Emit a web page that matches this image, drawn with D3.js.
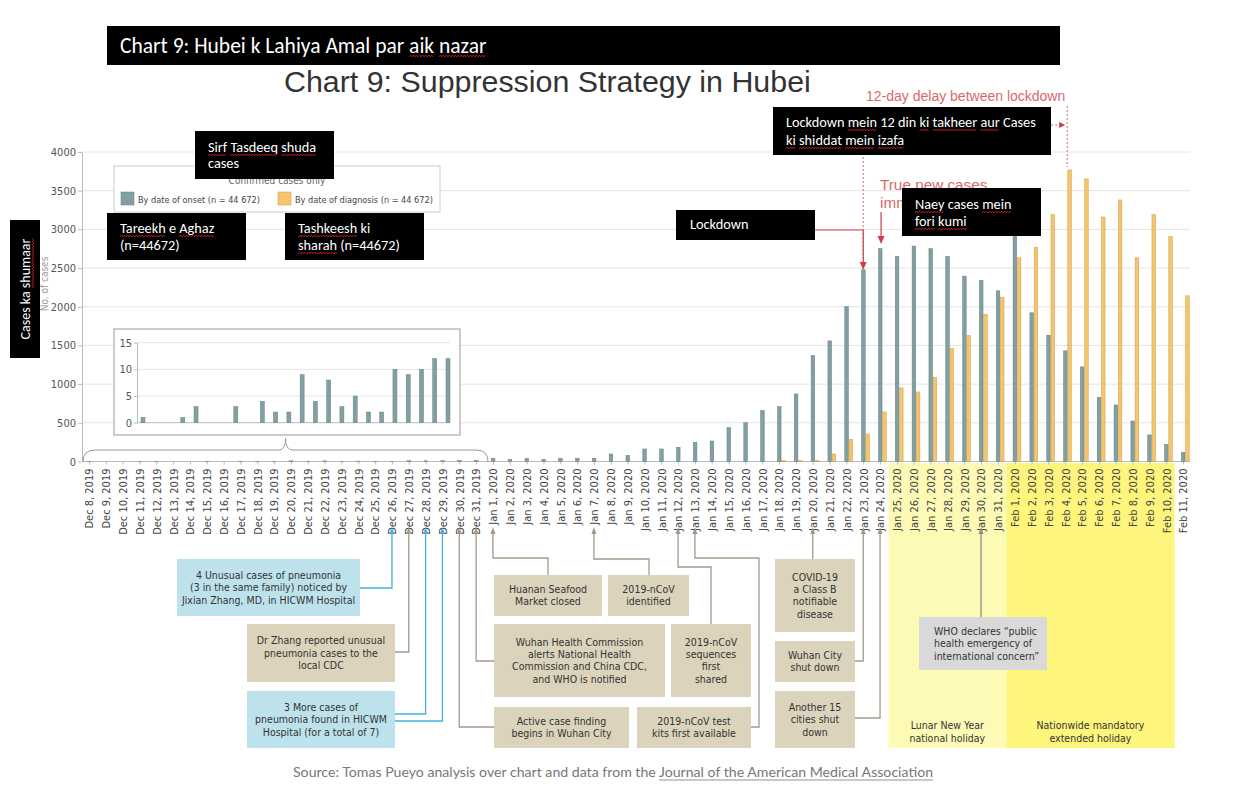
<!DOCTYPE html>
<html>
<head>
<meta charset="utf-8">
<script src="https://cdn.jsdelivr.net/npm/d3@7"></script>
<style>
  body { margin: 0; background: #fff; }
</style>
</head>
<body>
<svg id="chart"></svg>
<script>
// ---- data ----
var dates = [
  "Dec 8, 2019","Dec 9, 2019","Dec 10, 2019","Dec 11, 2019","Dec 12, 2019","Dec 13, 2019",
  "Dec 14, 2019","Dec 15, 2019","Dec 16, 2019","Dec 17, 2019","Dec 18, 2019","Dec 19, 2019",
  "Dec 20, 2019","Dec 21, 2019","Dec 22, 2019","Dec 23, 2019","Dec 24, 2019","Dec 25, 2019",
  "Dec 26, 2019","Dec 27, 2019","Dec 28, 2019","Dec 29, 2019","Dec 30, 2019","Dec 31, 2019",
  "Jan 1, 2020","Jan 2, 2020","Jan 3, 2020","Jan 4, 2020","Jan 5, 2020","Jan 6, 2020",
  "Jan 7, 2020","Jan 8, 2020","Jan 9, 2020","Jan 10, 2020","Jan 11, 2020","Jan 12, 2020",
  "Jan 13, 2020","Jan 14, 2020","Jan 15, 2020","Jan 16, 2020","Jan 17, 2020","Jan 18, 2020",
  "Jan 19, 2020","Jan 20, 2020","Jan 21, 2020","Jan 22, 2020","Jan 23, 2020","Jan 24, 2020",
  "Jan 25, 2020","Jan 26, 2020","Jan 27, 2020","Jan 28, 2020","Jan 29, 2020","Jan 30, 2020",
  "Jan 31, 2020","Feb 1, 2020","Feb 2, 2020","Feb 3, 2020","Feb 4, 2020","Feb 5, 2020",
  "Feb 6, 2020","Feb 7, 2020","Feb 8, 2020","Feb 9, 2020","Feb 10, 2020","Feb 11, 2020"
];

// cases by date of onset
var onset = [
  1, 0, 0, 1, 3, 0, 0, 3, 0, 4, 2, 2, 9, 4, 8, 3, 5, 2, 2, 10, 9, 10, 12, 12,
  41, 28, 41, 28, 41, 41, 41, 97, 80, 162, 162, 184, 248, 265, 438, 502, 658, 709,
  873, 1369, 1559, 2003, 2478, 2750, 2650, 2784, 2750, 2650, 2396, 2340, 2206,
  3000, 1922, 1633, 1430, 1223, 831, 731, 524, 343, 222, 119
];

// cases by date of diagnosis
var diagnosis = [
  0, 0, 0, 0, 0, 0, 0, 0, 0, 0, 0, 0, 0, 0, 0, 0, 0, 0, 0, 0, 0, 0, 0, 0,
  0, 0, 0, 0, 0, 0, 0, 0, 0, 0, 0, 0, 0, 0, 0, 0, 0, 12,
  12, 12, 97, 287, 356, 641, 951, 899, 1085, 1460, 1628, 1904, 2124,
  2633, 2767, 3190, 3768, 3652, 3160, 3380, 2633, 3190, 2905, 2141
];

var yTicks = [0, 500, 1000, 1500, 2000, 2500, 3000, 3500, 4000];
var insetTicks = [0, 5, 10, 15];
var insetDays = 24; // Dec 8 - Dec 31 shown in the zoomed panel

// ---- setup ----
var svgWidth = 1237;
var svgHeight = 790;

var narrow = "'Liberation Sans Narrow','DejaVu Sans Condensed',sans-serif";
var calibri = "Carlito, Lato, 'Open Sans', sans-serif";
var helv = "'Liberation Sans', Arial, sans-serif";
var red = "#c9404a";
var pink = "#d9686c";

var svg = d3.select("#chart")
  .attr("width", svgWidth)
  .attr("height", svgHeight)
  .style("background", "#fff");

var x = d3.scalePoint().domain(dates).range([89, 1183]);
var y = d3.scaleLinear().domain([0, 4000]).range([461.5, 152]);
var step = x.step();

// holiday bands behind everything
var bands = svg.append("g");
bands.append("rect")
  .attr("x", x("Jan 25, 2020") - step / 2).attr("y", 463)
  .attr("width", x("Feb 1, 2020") - x("Jan 25, 2020")).attr("height", 285)
  .attr("fill", "#fdfab6");
bands.append("rect")
  .attr("x", x("Feb 1, 2020") - step / 2).attr("y", 463)
  .attr("width", x("Feb 11, 2020") - x("Feb 1, 2020")).attr("height", 285)
  .attr("fill", "#fdf57c");

// grid
svg.append("g").selectAll("line")
  .data(yTicks.slice(1))
  .enter().append("line")
  .attr("x1", 82).attr("x2", 1190)
  .attr("y1", d => y(d)).attr("y2", d => y(d))
  .attr("stroke", "#e4e4e4");

// y axis
var yAxis = svg.append("g")
  .attr("transform", "translate(82,0)")
  .call(d3.axisLeft(y).tickValues(yTicks).tickFormat(d3.format("d"))
    .tickSize(4).tickSizeOuter(0).tickPadding(2));
yAxis.select(".domain").attr("stroke", "#bbb");
yAxis.selectAll(".tick line").attr("stroke", "#bbb");
yAxis.selectAll("text").attr("fill", "#555").style("font-family", narrow).style("font-size", "11px");

// x axis
svg.append("line")
  .attr("x1", 82).attr("x2", 1190).attr("y1", 461.5).attr("y2", 461.5)
  .attr("stroke", "#bbb");
var xAxis = svg.append("g")
  .attr("transform", "translate(0,461.5)")
  .call(d3.axisBottom(x).tickSize(3).tickSizeOuter(0));
xAxis.select(".domain").remove();
xAxis.selectAll(".tick line").attr("stroke", "#bbb");
xAxis.selectAll("text")
  .attr("transform", "rotate(-90)")
  .attr("text-anchor", "end")
  .attr("x", -7).attr("y", 0).attr("dy", "0.35em")
  .attr("fill", "#444")
  .style("font-family", narrow).style("font-size", "11px");

// bars
var rows = dates.map((d, i) => ({ date: d, onset: onset[i], diag: diagnosis[i] }));

svg.append("g").selectAll("rect")
  .data(rows.filter(d => d.onset > 0))
  .enter().append("rect")
  .attr("x", d => x(d.date) - 1.6)
  .attr("width", 3.6)
  .attr("y", d => y(d.onset))
  .attr("height", d => y(0) - y(d.onset))
  .attr("fill", "#82a0a3")
  .attr("stroke", "#62807f").attr("stroke-width", 0.5);

svg.append("g").selectAll("rect")
  .data(rows.filter(d => d.diag > 0))
  .enter().append("rect")
  .attr("x", d => x(d.date) + 2.6)
  .attr("width", 3.6)
  .attr("y", d => y(d.diag))
  .attr("height", d => y(0) - y(d.diag))
  .attr("fill", "#f4c56e")
  .attr("stroke", "#cf9d45").attr("stroke-width", 0.5);

// ---- inset for December ----
var inset = svg.append("g");
inset.append("rect")
  .attr("x", 114).attr("y", 329).attr("width", 346).attr("height", 106)
  .attr("fill", "#fff").attr("stroke", "#aaa").attr("stroke-width", 1.2);

var xi = d3.scalePoint().domain(dates.slice(0, insetDays)).range([143, 448]);
var yi = d3.scaleLinear().domain([0, 15]).range([422.7, 342.7]);

inset.append("g").selectAll("line")
  .data(insetTicks.slice(1))
  .enter().append("line")
  .attr("x1", 137).attr("x2", 450)
  .attr("y1", d => yi(d)).attr("y2", d => yi(d))
  .attr("stroke", "#e6e6e6");
inset.append("line")
  .attr("x1", 137).attr("x2", 450).attr("y1", yi(0)).attr("y2", yi(0))
  .attr("stroke", "#bbb");
var iAxis = inset.append("g")
  .attr("transform", "translate(137,0)")
  .call(d3.axisLeft(yi).tickValues(insetTicks).tickSize(3).tickSizeOuter(0).tickPadding(2));
iAxis.select(".domain").attr("stroke", "#bbb");
iAxis.selectAll(".tick line").attr("stroke", "#bbb");
iAxis.selectAll("text").attr("fill", "#555").style("font-family", narrow).style("font-size", "11px");

inset.append("g").selectAll("rect")
  .data(rows.slice(0, insetDays).filter(d => d.onset > 0))
  .enter().append("rect")
  .attr("x", d => xi(d.date) - 2)
  .attr("width", 4)
  .attr("y", d => yi(d.onset))
  .attr("height", d => yi(0) - yi(d.onset))
  .attr("fill", "#82a0a3")
  .attr("stroke", "#62807f").attr("stroke-width", 0.5);

// brace under the inset
var bx0 = x(dates[0]) - 6, bx1 = x(dates[insetDays - 1]) + 12, bmid = (bx0 + bx1) / 2;
svg.append("path")
  .attr("d", `M${bx0},462 Q${bx0},450 ${bx0 + 12},450 L${bmid - 7},450 Q${bmid},450 ${bmid},438 ` +
             `Q${bmid},450 ${bmid + 7},450 L${bx1 - 12},450 Q${bx1},450 ${bx1},462`)
  .attr("fill", "none").attr("stroke", "#9a9a9a").attr("stroke-width", 1);

// ---- legend ----
var legend = svg.append("g");
legend.append("rect")
  .attr("x", 114).attr("y", 166).attr("width", 326).attr("height", 46)
  .attr("fill", "#fff").attr("stroke", "#ccc");
legend.append("text")
  .attr("x", 277).attr("y", 184).attr("text-anchor", "middle")
  .attr("fill", "#666").style("font-family", narrow).style("font-size", "10px")
  .text("Confirmed cases only");
legend.append("rect").attr("x", 121).attr("y", 192).attr("width", 13).attr("height", 13)
  .attr("fill", "#82a0a3").attr("stroke", "#62807f").attr("stroke-width", 0.5);
var lg1 = legend.append("text").attr("x", 138).attr("y", 203)
  .attr("fill", "#444").attr("font-size", 11).style("font-family", narrow)
  .text("By date of onset (n = 44 672)");
fitText(lg1, 122);
legend.append("rect").attr("x", 278).attr("y", 192).attr("width", 13).attr("height", 13)
  .attr("fill", "#f4c56e").attr("stroke", "#cf9d45").attr("stroke-width", 0.5);
var lg2 = legend.append("text").attr("x", 295).attr("y", 203)
  .attr("fill", "#444").attr("font-size", 11).style("font-family", narrow)
  .text("By date of diagnosis (n = 44 672)");
fitText(lg2, 138);

// y axis title (original, partly under the black box)
svg.append("text")
  .attr("transform", "translate(48,284) rotate(-90)")
  .attr("text-anchor", "middle")
  .attr("fill", "#999").style("font-family", narrow).style("font-size", "10px")
  .text("No. of cases");

// ---- timeline annotations ----
var boxColors = { blue: "#bde2ec", tan: "#dbd3bb", gray: "#d9d9d9" };
var lineColors = { blue: "#3fb2dc", tan: "#a3998b", gray: "#8d8d8d" };

var boxes = [
  { kind: "blue", r: [177, 559, 183, 57], lines: ["4 Unusual cases of pneumonia", "(3 in the same family) noticed by", "Jixian Zhang, MD, in HICWM Hospital"] },
  { kind: "tan", r: [247, 624, 148, 58], lines: ["Dr Zhang reported unusual", "pneumonia cases to the", "local CDC"] },
  { kind: "blue", r: [247, 691, 148, 57], lines: ["3 More cases of", "pneumonia found in HICWM", "Hospital (for a total of 7)"] },
  { kind: "tan", r: [494, 575, 108, 41], lines: ["Huanan Seafood", "Market closed"] },
  { kind: "tan", r: [608, 575, 81, 41], lines: ["2019-nCoV", "identified"] },
  { kind: "tan", r: [494, 624, 171, 73], lines: ["Wuhan Health Commission", "alerts National Health", "Commission and China CDC,", "and WHO is notified"] },
  { kind: "tan", r: [671, 624, 80, 73], lines: ["2019-nCoV", "sequences", "first", "shared"] },
  { kind: "tan", r: [494, 707, 135, 41], lines: ["Active case finding", "begins in Wuhan City"] },
  { kind: "tan", r: [637, 707, 114, 41], lines: ["2019-nCoV test", "kits first available"] },
  { kind: "tan", r: [775, 559, 80, 73], lines: ["COVID-19", "a Class B", "notifiable", "disease"] },
  { kind: "tan", r: [775, 641, 80, 41], lines: ["Wuhan City", "shut down"] },
  { kind: "tan", r: [775, 691, 80, 57], lines: ["Another 15", "cities shut", "down"] },
  { kind: "gray", r: [919, 617, 128, 53], left: true, lines: ["WHO declares \u201cpublic", "health emergency of", "international concern\u201d"] }
];

// connector routes: points from the box towards the date; "d" = x of that date
var links = [
  { date: "Dec 26, 2019", kind: "blue", pts: [[360, 588], ["d", 588]] },
  { date: "Dec 27, 2019", kind: "tan", pts: [[395, 652], ["d", 652]] },
  { date: "Dec 28, 2019", kind: "blue", pts: [[395, 714], ["d", 714]] },
  { date: "Dec 29, 2019", kind: "blue", pts: [[395, 721], ["d", 721]] },
  { date: "Dec 30, 2019", kind: "tan", pts: [[494, 727], ["d", 727]] },
  { date: "Dec 31, 2019", kind: "tan", pts: [[494, 661], ["d", 661]] },
  { date: "Jan 1, 2020", kind: "tan", pts: [[548, 575], [548, 558], ["d", 558]] },
  { date: "Jan 7, 2020", kind: "tan", pts: [[649, 575], [649, 559], ["d", 559]] },
  { date: "Jan 12, 2020", kind: "tan", pts: [[711, 624], [711, 567], ["d", 567]] },
  { date: "Jan 13, 2020", kind: "tan", pts: [[751, 727], [759, 727], [759, 558], ["d", 558]] },
  { date: "Jan 20, 2020", kind: "tan", pts: [["d", 559]] },
  { date: "Jan 23, 2020", kind: "tan", pts: [[855, 661], ["d", 661]] },
  { date: "Jan 24, 2020", kind: "tan", pts: [[855, 718], ["d", 718]] },
  { date: "Jan 30, 2020", kind: "gray", pts: [["d", 617]] }
];

var ann = svg.append("g");
links.forEach(function(l) {
  var dx = x(l.date);
  var pts = l.pts.map(p => [p[0] === "d" ? dx : p[0], p[1]]);
  pts.push([dx, 533]);
  ann.append("path")
    .attr("d", d3.line()(pts))
    .attr("fill", "none").attr("stroke", lineColors[l.kind]).attr("stroke-width", 1.3);
  ann.append("path")
    .attr("d", `M${dx},527 L${dx - 2.5},534 L${dx + 2.5},534 Z`)
    .attr("fill", lineColors[l.kind]);
});

boxes.forEach(function(b) {
  var r = b.r;
  ann.append("rect")
    .attr("x", r[0]).attr("y", r[1]).attr("width", r[2]).attr("height", r[3])
    .attr("fill", boxColors[b.kind]);
  var lh = 12.4;
  var top = r[1] + r[3] / 2 - (b.lines.length - 1) * lh / 2;
  var t = ann.append("text")
    .attr("text-anchor", b.left ? "start" : "middle")
    .attr("fill", "#333")
    .style("font-family", narrow).style("font-size", "10.5px");
  b.lines.forEach(function(s, i) {
    t.append("tspan")
      .attr("x", b.left ? r[0] + 15 : r[0] + r[2] / 2)
      .attr("y", top + i * lh)
      .attr("dy", "0.35em")
      .text(s);
  });
});

// holiday labels
var holidays = [
  { from: "Jan 25, 2020", to: "Feb 1, 2020", lines: ["Lunar New Year", "national holiday"] },
  { from: "Feb 1, 2020", to: "Feb 11, 2020", lines: ["Nationwide mandatory", "extended holiday"] }
];
holidays.forEach(function(h) {
  var cx = (x(h.from) + x(h.to)) / 2 - step / 2;
  var t = ann.append("text").attr("text-anchor", "middle").attr("fill", "#333")
    .style("font-family", narrow).style("font-size", "10.5px");
  h.lines.forEach(function(s, i) {
    t.append("tspan").attr("x", cx).attr("y", 729 + i * 12.5).text(s);
  });
});

// ---- red lockdown annotations ----
var xl = x("Jan 23, 2020"), x24 = x("Jan 24, 2020"), xf4 = x("Feb 4, 2020");
var redG = svg.append("g");
redG.append("text")
  .attr("x", 866).attr("y", 101)
  .attr("fill", pink).style("font-family", helv).style("font-size", "14px")
  .text("12-day delay between lockdown");
redG.append("line")
  .attr("x1", xl).attr("x2", xl).attr("y1", 125).attr("y2", 262)
  .attr("stroke", pink).attr("stroke-dasharray", "2,2");
redG.append("line")
  .attr("x1", xl).attr("x2", xf4 - 4).attr("y1", 125).attr("y2", 125)
  .attr("stroke", pink).attr("stroke-dasharray", "2,2");
redG.append("path")
  .attr("d", `M${xf4},125 L${xf4 - 6},122 L${xf4 - 6},128 Z`).attr("fill", red);
redG.append("line")
  .attr("x1", xf4 + 2).attr("x2", xf4 + 2).attr("y1", 106).attr("y2", 167)
  .attr("stroke", pink).attr("stroke-dasharray", "2,2");

redG.append("path")
  .attr("d", `M815,230 L${xl},230 L${xl},264`)
  .attr("fill", "none").attr("stroke", red).attr("stroke-width", 1.2);
redG.append("path")
  .attr("d", `M${xl},270 L${xl - 3.5},262 L${xl + 3.5},262 Z`).attr("fill", red);

redG.append("text")
  .attr("x", 880).attr("y", 190)
  .attr("fill", pink).style("font-family", helv).style("font-size", "15.3px")
  .text("True new cases");
redG.append("text")
  .attr("x", 880).attr("y", 208)
  .attr("fill", pink).style("font-family", helv).style("font-size", "15.3px")
  .text("immediately drop");
redG.append("line")
  .attr("x1", x24 + 1).attr("x2", x24 + 1).attr("y1", 212).attr("y2", 238)
  .attr("stroke", red).attr("stroke-width", 1.2);
redG.append("path")
  .attr("d", `M${x24 + 1},244 L${x24 - 2.5},236 L${x24 + 4.5},236 Z`).attr("fill", red);

// ---- main title ----
var title = svg.append("text")
  .attr("x", 284).attr("y", 92)
  .attr("fill", "#333").attr("font-size", 30)
  .style("font-family", helv)
  .text("Chart 9: Suppression Strategy in Hubei");
fitText(title, 527);

// ---- source ----
var src = svg.append("text")
  .attr("x", 293).attr("y", 777)
  .attr("fill", "#777").attr("font-size", 13)
  .style("font-family", "Lato, 'Open Sans', sans-serif");
src.append("tspan").text("Source: Tomas Pueyo analysis over chart and data from the ");
var jama = src.append("tspan").text("Journal of the American Medical Association");
fitText(src, 641);
var jx0 = jama.node().getStartPositionOfChar(0).x;
var jx1 = jama.node().getEndPositionOfChar(jama.text().length - 1).x;
svg.append("line").attr("x1", jx0).attr("x2", jx1).attr("y1", 780).attr("y2", 780)
  .attr("stroke", "#777").attr("stroke-width", 0.8);

// ---- black overlay boxes (translated labels) ----
var overlays = [
  { r: [107, 26, 953, 39], tx: 120, ty: [53], size: 21.5, lines: ["Chart 9: Hubei k Lahiya Amal par *aik *nazar"] },
  { r: [195, 131, 139, 48], tx: 208, ty: [152, 168], size: 14.3, lines: ["*Sirf *Tasdeeq *shuda", "cases"] },
  { r: [107, 213, 139, 47], tx: 120, ty: [233, 250], size: 14.3, lines: ["*Tareekh e *Aghaz", "(n=44672)"] },
  { r: [285, 213, 139, 47], tx: 298, ty: [233, 250], size: 14.3, lines: ["*Tashkeesh ki", "*sharah (n=44672)"] },
  { r: [773, 107, 278, 48], tx: 786, ty: [127, 145], size: 14.3, lines: ["Lockdown *mein 12 din *ki *takheer *aur Cases", "*ki *shiddat *mein *izafa"] },
  { r: [902, 188, 139, 48], tx: 915, ty: [209, 226], size: 14.3, lines: ["*Naey cases *mein", "*fori *kumi"] },
  { r: [676, 210, 139, 30], tx: 690, ty: [229], size: 14.3, lines: ["Lockdown"] }
];

overlays.forEach(function(o) {
  var g = svg.append("g");
  g.append("rect").attr("x", o.r[0]).attr("y", o.r[1]).attr("width", o.r[2]).attr("height", o.r[3])
    .attr("fill", "#000");
  o.lines.forEach(function(line, i) {
    writeLine(g, o.tx, o.ty[i], line, o.size, "start");
  });
});

// rotated y label box
var yl = svg.append("g");
yl.append("rect").attr("x", 10).attr("y", 220).attr("width", 30).attr("height", 138).attr("fill", "#000");
var ylg = yl.append("g").attr("transform", "translate(30,289) rotate(-90)");
writeLine(ylg, 0, 0, "Cases ka *shumaar", 14, "middle");

// ---- helpers ----
function fitText(sel, w) {
  var fs = parseFloat(sel.attr("font-size"));
  var len = sel.node().getComputedTextLength();
  sel.attr("font-size", fs * w / len);
}

// writes one line of white text; words starting with * get a red spell-check squiggle
function writeLine(g, tx, ty, line, size, anchor) {
  var words = line.split(" ");
  var t = g.append("text")
    .attr("x", tx).attr("y", ty)
    .attr("text-anchor", anchor)
    .attr("fill", "#fff")
    .style("font-family", calibri).style("font-size", size + "px");
  var spans = words.map(function(w, i) {
    var flagged = w[0] === "*";
    var word = flagged ? w.slice(1) : w;
    var sp = t.append("tspan").text(word + (i < words.length - 1 ? " " : ""));
    return { sp: sp, flagged: flagged, n: word.length };
  });
  spans.forEach(function(s) {
    if (!s.flagged) return;
    var node = s.sp.node();
    var a = node.getStartPositionOfChar(0).x;
    var b = node.getEndPositionOfChar(s.n - 1).x;
    var pts = [];
    var k = 0;
    for (var px = a; px <= b; px += 1.5) {
      pts.push([px, ty + 3 + (k % 2 ? -0.9 : 0.9)]);
      k++;
    }
    g.append("path").attr("d", d3.line()(pts))
      .attr("fill", "none").attr("stroke", "#e8202a").attr("stroke-width", 0.8);
  });
}
</script>
</body>
</html>
